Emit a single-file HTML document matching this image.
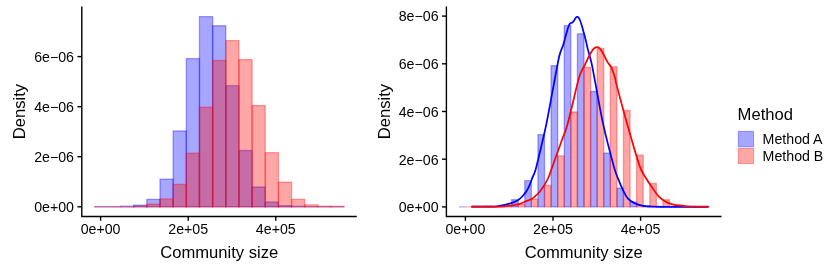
<!DOCTYPE html>
<html><head><meta charset="utf-8"><title>plot</title>
<style>
html,body{margin:0;padding:0;background:#fff;}
svg{display:block;}
text{font-family:"Liberation Sans",sans-serif;fill:#000;}
#all{opacity:0.999;}
.t{font-size:14.2px;}
.T{font-size:16.6px;}
</style></head><body>
<svg width="830" height="272" viewBox="0 0 830 272">
<rect width="830" height="272" fill="#fff"/>
<g id="all" transform="translate(0 0.4)">
<g><path d="M94.2 206.4h13.16v0h-13.16z" fill="rgba(0,0,255,0.35)" stroke="rgba(0,0,255,0.35)" stroke-width="1.35"/>
<path d="M107.36 206.4h13.16v0h-13.16z" fill="rgba(0,0,255,0.35)" stroke="rgba(0,0,255,0.35)" stroke-width="1.35"/>
<path d="M120.52 205.9h13.16v0.5h-13.16z" fill="rgba(0,0,255,0.35)" stroke="rgba(0,0,255,0.35)" stroke-width="1.35"/>
<path d="M133.67 204.8h13.16v1.6h-13.16z" fill="rgba(0,0,255,0.35)" stroke="rgba(0,0,255,0.35)" stroke-width="1.35"/>
<path d="M146.83 198.91h13.16v7.49h-13.16z" fill="rgba(0,0,255,0.35)" stroke="rgba(0,0,255,0.35)" stroke-width="1.35"/>
<path d="M159.99 178.86h13.16v27.54h-13.16z" fill="rgba(0,0,255,0.35)" stroke="rgba(0,0,255,0.35)" stroke-width="1.35"/>
<path d="M173.15 130.56h13.16v75.84h-13.16z" fill="rgba(0,0,255,0.35)" stroke="rgba(0,0,255,0.35)" stroke-width="1.35"/>
<path d="M186.31 58.21h13.16v148.19h-13.16z" fill="rgba(0,0,255,0.35)" stroke="rgba(0,0,255,0.35)" stroke-width="1.35"/>
<path d="M199.46 16.2h13.16v190.2h-13.16z" fill="rgba(0,0,255,0.35)" stroke="rgba(0,0,255,0.35)" stroke-width="1.35"/>
<path d="M212.62 25.38h13.16v181.02h-13.16z" fill="rgba(0,0,255,0.35)" stroke="rgba(0,0,255,0.35)" stroke-width="1.35"/>
<path d="M225.78 85.25h13.16v121.15h-13.16z" fill="rgba(0,0,255,0.35)" stroke="rgba(0,0,255,0.35)" stroke-width="1.35"/>
<path d="M238.94 150.12h13.16v56.28h-13.16z" fill="rgba(0,0,255,0.35)" stroke="rgba(0,0,255,0.35)" stroke-width="1.35"/>
<path d="M252.1 186.64h13.16v19.76h-13.16z" fill="rgba(0,0,255,0.35)" stroke="rgba(0,0,255,0.35)" stroke-width="1.35"/>
<path d="M265.25 201.51h13.16v4.89h-13.16z" fill="rgba(0,0,255,0.35)" stroke="rgba(0,0,255,0.35)" stroke-width="1.35"/>
<path d="M278.41 205.3h13.16v1.1h-13.16z" fill="rgba(0,0,255,0.35)" stroke="rgba(0,0,255,0.35)" stroke-width="1.35"/>
<path d="M291.57 205.9h13.16v0.5h-13.16z" fill="rgba(0,0,255,0.35)" stroke="rgba(0,0,255,0.35)" stroke-width="1.35"/>
<path d="M304.73 206.4h13.16v0h-13.16z" fill="rgba(0,0,255,0.35)" stroke="rgba(0,0,255,0.35)" stroke-width="1.35"/>
<path d="M317.89 206.4h13.16v0h-13.16z" fill="rgba(0,0,255,0.35)" stroke="rgba(0,0,255,0.35)" stroke-width="1.35"/>
<path d="M331.04 206.4h13.16v0h-13.16z" fill="rgba(0,0,255,0.35)" stroke="rgba(0,0,255,0.35)" stroke-width="1.35"/></g>
<g><path d="M94.2 206.4h13.16v0h-13.16z" fill="rgba(255,0,0,0.35)" stroke="rgba(255,0,0,0.35)" stroke-width="1.35"/>
<path d="M107.36 206.4h13.16v0h-13.16z" fill="rgba(255,0,0,0.35)" stroke="rgba(255,0,0,0.35)" stroke-width="1.35"/>
<path d="M120.52 206.4h13.16v0h-13.16z" fill="rgba(255,0,0,0.35)" stroke="rgba(255,0,0,0.35)" stroke-width="1.35"/>
<path d="M133.67 205.7h13.16v0.7h-13.16z" fill="rgba(255,0,0,0.35)" stroke="rgba(255,0,0,0.35)" stroke-width="1.35"/>
<path d="M146.83 203.8h13.16v2.6h-13.16z" fill="rgba(255,0,0,0.35)" stroke="rgba(255,0,0,0.35)" stroke-width="1.35"/>
<path d="M159.99 198.42h13.16v7.98h-13.16z" fill="rgba(255,0,0,0.35)" stroke="rgba(255,0,0,0.35)" stroke-width="1.35"/>
<path d="M173.15 183.95h13.16v22.45h-13.16z" fill="rgba(255,0,0,0.35)" stroke="rgba(255,0,0,0.35)" stroke-width="1.35"/>
<path d="M186.31 152.81h13.16v53.59h-13.16z" fill="rgba(255,0,0,0.35)" stroke="rgba(255,0,0,0.35)" stroke-width="1.35"/>
<path d="M199.46 106.81h13.16v99.59h-13.16z" fill="rgba(255,0,0,0.35)" stroke="rgba(255,0,0,0.35)" stroke-width="1.35"/>
<path d="M212.62 60.11h13.16v146.29h-13.16z" fill="rgba(255,0,0,0.35)" stroke="rgba(255,0,0,0.35)" stroke-width="1.35"/>
<path d="M225.78 40.15h13.16v166.25h-13.16z" fill="rgba(255,0,0,0.35)" stroke="rgba(255,0,0,0.35)" stroke-width="1.35"/>
<path d="M238.94 59.21h13.16v147.19h-13.16z" fill="rgba(255,0,0,0.35)" stroke="rgba(255,0,0,0.35)" stroke-width="1.35"/>
<path d="M252.1 105.21h13.16v101.19h-13.16z" fill="rgba(255,0,0,0.35)" stroke="rgba(255,0,0,0.35)" stroke-width="1.35"/>
<path d="M265.25 152.21h13.16v54.19h-13.16z" fill="rgba(255,0,0,0.35)" stroke="rgba(255,0,0,0.35)" stroke-width="1.35"/>
<path d="M278.41 181.85h13.16v24.55h-13.16z" fill="rgba(255,0,0,0.35)" stroke="rgba(255,0,0,0.35)" stroke-width="1.35"/>
<path d="M291.57 198.91h13.16v7.49h-13.16z" fill="rgba(255,0,0,0.35)" stroke="rgba(255,0,0,0.35)" stroke-width="1.35"/>
<path d="M304.73 204.5h13.16v1.9h-13.16z" fill="rgba(255,0,0,0.35)" stroke="rgba(255,0,0,0.35)" stroke-width="1.35"/>
<path d="M317.89 205.8h13.16v0.6h-13.16z" fill="rgba(255,0,0,0.35)" stroke="rgba(255,0,0,0.35)" stroke-width="1.35"/>
<path d="M331.04 205.9h13.16v0.5h-13.16z" fill="rgba(255,0,0,0.35)" stroke="rgba(255,0,0,0.35)" stroke-width="1.35"/></g>
<g><path d="M459 206.5h6.58v0h-6.58z" fill="rgba(0,0,255,0.35)" stroke="rgba(0,0,255,0.35)" stroke-width="1.35"/>
<path d="M472.16 206.5h6.58v0h-6.58z" fill="rgba(0,0,255,0.35)" stroke="rgba(0,0,255,0.35)" stroke-width="1.35"/>
<path d="M485.32 206.02h6.58v0.48h-6.58z" fill="rgba(0,0,255,0.35)" stroke="rgba(0,0,255,0.35)" stroke-width="1.35"/>
<path d="M498.47 204.98h6.58v1.52h-6.58z" fill="rgba(0,0,255,0.35)" stroke="rgba(0,0,255,0.35)" stroke-width="1.35"/>
<path d="M511.63 199.37h6.58v7.13h-6.58z" fill="rgba(0,0,255,0.35)" stroke="rgba(0,0,255,0.35)" stroke-width="1.35"/>
<path d="M524.79 180.25h6.58v26.25h-6.58z" fill="rgba(0,0,255,0.35)" stroke="rgba(0,0,255,0.35)" stroke-width="1.35"/>
<path d="M537.95 134.23h6.58v72.27h-6.58z" fill="rgba(0,0,255,0.35)" stroke="rgba(0,0,255,0.35)" stroke-width="1.35"/>
<path d="M551.11 65.3h6.58v141.2h-6.58z" fill="rgba(0,0,255,0.35)" stroke="rgba(0,0,255,0.35)" stroke-width="1.35"/>
<path d="M564.26 25.27h6.58v181.23h-6.58z" fill="rgba(0,0,255,0.35)" stroke="rgba(0,0,255,0.35)" stroke-width="1.35"/>
<path d="M577.42 33.41h6.58v173.09h-6.58z" fill="rgba(0,0,255,0.35)" stroke="rgba(0,0,255,0.35)" stroke-width="1.35"/>
<path d="M590.58 91.07h6.58v115.43h-6.58z" fill="rgba(0,0,255,0.35)" stroke="rgba(0,0,255,0.35)" stroke-width="1.35"/>
<path d="M603.74 152.87h6.58v53.63h-6.58z" fill="rgba(0,0,255,0.35)" stroke="rgba(0,0,255,0.35)" stroke-width="1.35"/>
<path d="M616.9 187.67h6.58v18.83h-6.58z" fill="rgba(0,0,255,0.35)" stroke="rgba(0,0,255,0.35)" stroke-width="1.35"/>
<path d="M630.05 201.84h6.58v4.66h-6.58z" fill="rgba(0,0,255,0.35)" stroke="rgba(0,0,255,0.35)" stroke-width="1.35"/>
<path d="M643.21 205.45h6.58v1.05h-6.58z" fill="rgba(0,0,255,0.35)" stroke="rgba(0,0,255,0.35)" stroke-width="1.35"/>
<path d="M656.37 206.02h6.58v0.48h-6.58z" fill="rgba(0,0,255,0.35)" stroke="rgba(0,0,255,0.35)" stroke-width="1.35"/>
<path d="M669.53 206.5h6.58v0h-6.58z" fill="rgba(0,0,255,0.35)" stroke="rgba(0,0,255,0.35)" stroke-width="1.35"/>
<path d="M682.69 206.5h6.58v0h-6.58z" fill="rgba(0,0,255,0.35)" stroke="rgba(0,0,255,0.35)" stroke-width="1.35"/>
<path d="M695.84 206.5h6.58v0h-6.58z" fill="rgba(0,0,255,0.35)" stroke="rgba(0,0,255,0.35)" stroke-width="1.35"/></g>
<g><path d="M465.58 206.5h6.58v0h-6.58z" fill="rgba(255,0,0,0.35)" stroke="rgba(255,0,0,0.35)" stroke-width="1.35"/>
<path d="M478.74 206.5h6.58v0h-6.58z" fill="rgba(255,0,0,0.35)" stroke="rgba(255,0,0,0.35)" stroke-width="1.35"/>
<path d="M491.89 206.5h6.58v0h-6.58z" fill="rgba(255,0,0,0.35)" stroke="rgba(255,0,0,0.35)" stroke-width="1.35"/>
<path d="M505.05 205.83h6.58v0.67h-6.58z" fill="rgba(255,0,0,0.35)" stroke="rgba(255,0,0,0.35)" stroke-width="1.35"/>
<path d="M518.21 204.03h6.58v2.47h-6.58z" fill="rgba(255,0,0,0.35)" stroke="rgba(255,0,0,0.35)" stroke-width="1.35"/>
<path d="M531.37 198.89h6.58v7.61h-6.58z" fill="rgba(255,0,0,0.35)" stroke="rgba(255,0,0,0.35)" stroke-width="1.35"/>
<path d="M544.53 185.1h6.58v21.4h-6.58z" fill="rgba(255,0,0,0.35)" stroke="rgba(255,0,0,0.35)" stroke-width="1.35"/>
<path d="M557.68 155.44h6.58v51.06h-6.58z" fill="rgba(255,0,0,0.35)" stroke="rgba(255,0,0,0.35)" stroke-width="1.35"/>
<path d="M570.84 111.6h6.58v94.9h-6.58z" fill="rgba(255,0,0,0.35)" stroke="rgba(255,0,0,0.35)" stroke-width="1.35"/>
<path d="M584 67.1h6.58v139.4h-6.58z" fill="rgba(255,0,0,0.35)" stroke="rgba(255,0,0,0.35)" stroke-width="1.35"/>
<path d="M597.16 48.09h6.58v158.41h-6.58z" fill="rgba(255,0,0,0.35)" stroke="rgba(255,0,0,0.35)" stroke-width="1.35"/>
<path d="M610.32 66.25h6.58v140.25h-6.58z" fill="rgba(255,0,0,0.35)" stroke="rgba(255,0,0,0.35)" stroke-width="1.35"/>
<path d="M623.47 110.08h6.58v96.42h-6.58z" fill="rgba(255,0,0,0.35)" stroke="rgba(255,0,0,0.35)" stroke-width="1.35"/>
<path d="M636.63 154.87h6.58v51.63h-6.58z" fill="rgba(255,0,0,0.35)" stroke="rgba(255,0,0,0.35)" stroke-width="1.35"/>
<path d="M649.79 183.11h6.58v23.39h-6.58z" fill="rgba(255,0,0,0.35)" stroke="rgba(255,0,0,0.35)" stroke-width="1.35"/>
<path d="M662.95 199.37h6.58v7.13h-6.58z" fill="rgba(255,0,0,0.35)" stroke="rgba(255,0,0,0.35)" stroke-width="1.35"/>
<path d="M676.11 204.69h6.58v1.81h-6.58z" fill="rgba(255,0,0,0.35)" stroke="rgba(255,0,0,0.35)" stroke-width="1.35"/>
<path d="M689.26 205.93h6.58v0.57h-6.58z" fill="rgba(255,0,0,0.35)" stroke="rgba(255,0,0,0.35)" stroke-width="1.35"/>
<path d="M702.42 206.02h6.58v0.48h-6.58z" fill="rgba(255,0,0,0.35)" stroke="rgba(255,0,0,0.35)" stroke-width="1.35"/></g>
<path d="M472.2 206.3C475.17 206.29 485.57 206.36 490 206.25C494.43 206.14 496.33 205.94 498.8 205.65C501.27 205.36 502.98 204.89 504.8 204.5C506.62 204.11 508.05 203.8 509.7 203.3C511.35 202.8 513.03 202.3 514.7 201.5C516.37 200.7 518.22 199.67 519.7 198.5C521.18 197.33 522.45 195.82 523.6 194.5C524.75 193.18 525.57 192.32 526.6 190.6C527.63 188.88 528.82 186.47 529.8 184.2C530.78 181.93 531.55 179.43 532.5 177C533.45 174.57 534 174.93 535.5 169.6C537 164.27 539.67 152.77 541.5 145C543.33 137.23 544.42 133.33 546.5 123C548.58 112.67 551.87 94.23 554 83C556.13 71.77 557.77 62.02 559.3 55.6C560.83 49.18 562.05 48.15 563.2 44.5C564.35 40.85 565.33 36.73 566.2 33.7C567.07 30.67 567.77 28.05 568.4 26.3C569.03 24.55 569.35 23.9 570 23.2C570.65 22.5 571.58 22.65 572.3 22.1C573.02 21.55 573.73 20.68 574.3 19.9C574.87 19.12 575.22 17.98 575.7 17.4C576.18 16.82 576.7 16.4 577.2 16.4C577.7 16.4 578.2 16.73 578.7 17.4C579.2 18.07 579.7 19.15 580.2 20.4C580.7 21.65 581.12 22.97 581.7 24.9C582.28 26.83 583.02 29.48 583.7 32C584.38 34.52 585.15 37.33 585.8 40C586.45 42.67 586.63 44.17 587.6 48C588.57 51.83 590.23 56.83 591.6 63C592.97 69.17 593.9 75 595.8 85C597.7 95 600.02 109.58 603 123C605.98 136.42 611.17 156.25 613.7 165.5C616.23 174.75 616.6 174.35 618.2 178.5C619.8 182.65 621.6 187.02 623.3 190.4C625 193.78 626.43 196.7 628.4 198.8C630.37 200.9 632.83 201.93 635.1 203C637.37 204.07 638.88 204.65 642 205.2C645.12 205.75 649.13 206.1 653.8 206.3C658.47 206.5 660.98 206.38 670 206.4C679.02 206.42 701.58 206.4 707.9 206.4" fill="none" stroke="#0000ff" stroke-width="1.75" stroke-linejoin="round" stroke-linecap="round"/>
<path d="M471.9 206.3C475.72 206.29 489.32 206.32 494.8 206.25C500.28 206.18 501.82 206.06 504.8 205.85C507.78 205.64 510.22 205.39 512.7 205C515.18 204.61 517.55 204.17 519.7 203.5C521.85 202.83 523.62 201.83 525.6 201C527.58 200.17 529.95 199.42 531.6 198.5C533.25 197.58 534.15 196.7 535.5 195.5C536.85 194.3 538.25 193.05 539.7 191.3C541.15 189.55 542.7 187.45 544.2 185C545.7 182.55 547.53 179.17 548.7 176.6C549.87 174.03 549.95 173.1 551.2 169.6C552.45 166.1 554.4 160.63 556.2 155.6C558 150.57 560.12 144.67 562 139.4C563.88 134.13 565 133.07 567.5 124C570 114.93 574.93 93.18 577 85C579.07 76.82 578.92 77.75 579.9 74.9C580.88 72.05 581.95 69.88 582.9 67.9C583.85 65.92 584.65 64.9 585.6 63C586.55 61.1 587.57 58.52 588.6 56.5C589.63 54.48 590.85 52.33 591.8 50.9C592.75 49.47 593.45 48.6 594.3 47.9C595.15 47.2 596 46.7 596.9 46.7C597.8 46.7 598.82 47.12 599.7 47.9C600.58 48.68 601.28 49.83 602.2 51.4C603.12 52.97 604.28 55.53 605.2 57.3C606.12 59.07 606.78 60.57 607.7 62C608.62 63.43 609.78 64.25 610.7 65.9C611.62 67.55 612.45 69.9 613.2 71.9C613.95 73.9 614.62 75.72 615.2 77.9C615.78 80.08 614.73 77.48 616.7 85C618.67 92.52 623.22 109.67 627 123C630.78 136.33 636.33 156.03 639.4 165C642.47 173.97 643.28 173.13 645.4 176.8C647.52 180.47 649.85 183.75 652.1 187C654.35 190.25 656.63 193.9 658.9 196.3C661.17 198.7 663.45 200.13 665.7 201.4C667.95 202.67 669.87 203.25 672.4 203.9C674.93 204.55 677.8 204.93 680.9 205.3C684 205.67 687.82 205.93 691 206.1C694.18 206.27 697.18 206.27 700 206.3C702.82 206.33 706.58 206.3 707.9 206.3" fill="none" stroke="#ff0000" stroke-width="1.75" stroke-linejoin="round" stroke-linecap="round"/>
<path d="M81.8 6.2V216.1H356.8" stroke="#000" stroke-width="1.4" fill="none" stroke-linecap="butt"/>
<path d="M100.6 216.1v4.3" stroke="#000" stroke-width="1.4" fill="none"/>
<text x="100.6" y="233.6" text-anchor="middle" class="t">0e+00</text>
<path d="M188.2 216.1v4.3" stroke="#000" stroke-width="1.4" fill="none"/>
<text x="188.2" y="233.6" text-anchor="middle" class="t">2e+05</text>
<path d="M275.8 216.1v4.3" stroke="#000" stroke-width="1.4" fill="none"/>
<text x="275.8" y="233.6" text-anchor="middle" class="t">4e+05</text>
<path d="M81.8 206.4h-4.4" stroke="#000" stroke-width="1.4" fill="none"/>
<text x="74" y="211.8" text-anchor="end" class="t">0e+00</text>
<path d="M81.8 156.3h-4.4" stroke="#000" stroke-width="1.4" fill="none"/>
<text x="74" y="161.7" text-anchor="end" class="t">2e−06</text>
<path d="M81.8 106.3h-4.4" stroke="#000" stroke-width="1.4" fill="none"/>
<text x="74" y="111.7" text-anchor="end" class="t">4e−06</text>
<path d="M81.8 56.2h-4.4" stroke="#000" stroke-width="1.4" fill="none"/>
<text x="74" y="61.6" text-anchor="end" class="t">6e−06</text>
<path d="M446.4 6.2V216.1H721.5" stroke="#000" stroke-width="1.4" fill="none" stroke-linecap="butt"/>
<path d="M465.4 216.1v4.3" stroke="#000" stroke-width="1.4" fill="none"/>
<text x="465.4" y="233.6" text-anchor="middle" class="t">0e+00</text>
<path d="M553 216.1v4.3" stroke="#000" stroke-width="1.4" fill="none"/>
<text x="553" y="233.6" text-anchor="middle" class="t">2e+05</text>
<path d="M640.6 216.1v4.3" stroke="#000" stroke-width="1.4" fill="none"/>
<text x="640.6" y="233.6" text-anchor="middle" class="t">4e+05</text>
<path d="M446.4 206.5h-4.4" stroke="#000" stroke-width="1.4" fill="none"/>
<text x="438.6" y="211.9" text-anchor="end" class="t">0e+00</text>
<path d="M446.4 158.8h-4.4" stroke="#000" stroke-width="1.4" fill="none"/>
<text x="438.6" y="164.2" text-anchor="end" class="t">2e−06</text>
<path d="M446.4 111.1h-4.4" stroke="#000" stroke-width="1.4" fill="none"/>
<text x="438.6" y="116.5" text-anchor="end" class="t">4e−06</text>
<path d="M446.4 63.4h-4.4" stroke="#000" stroke-width="1.4" fill="none"/>
<text x="438.6" y="68.8" text-anchor="end" class="t">6e−06</text>
<path d="M446.4 15.7h-4.4" stroke="#000" stroke-width="1.4" fill="none"/>
<text x="438.6" y="21.1" text-anchor="end" class="t">8e−06</text>
<text x="219.2" y="258.1" text-anchor="middle" class="T">Community size</text>
<text x="583.7" y="258.1" text-anchor="middle" class="T">Community size</text>
<text transform="translate(25.2 111.1) rotate(-90)" text-anchor="middle" class="T">Density</text>
<text transform="translate(390.3 111.1) rotate(-90)" text-anchor="middle" class="T">Density</text>
<text x="737.6" y="119.7" class="T">Method</text>
<rect x="738.3" y="131.0" width="15.3" height="15.4" fill="rgba(0,0,255,0.35)" stroke="rgba(0,0,255,0.35)" stroke-width="1"/>
<rect x="738.3" y="148.0" width="15.3" height="15.4" fill="rgba(255,0,0,0.35)" stroke="rgba(255,0,0,0.35)" stroke-width="1"/>
<text x="762.6" y="143.4" class="t">Method A</text>
<text x="762.6" y="160.6" class="t">Method B</text>
</g>
</svg>
</body></html>
